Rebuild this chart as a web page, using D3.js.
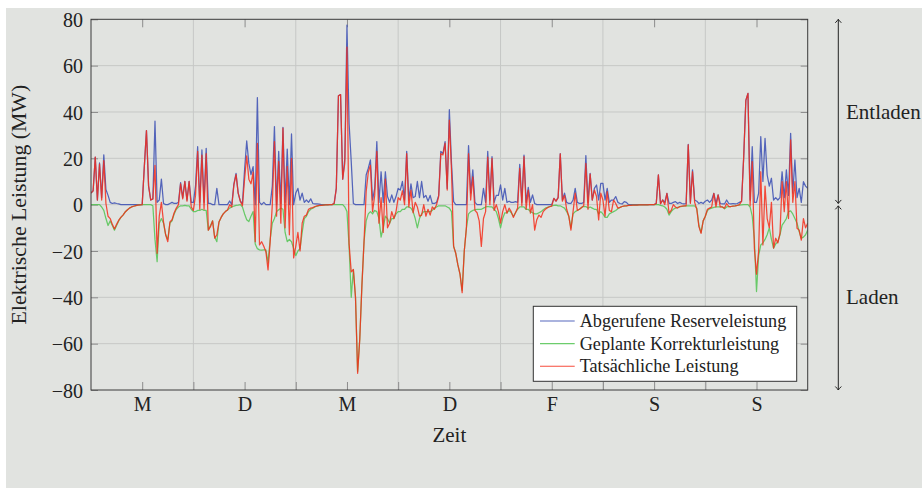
<!DOCTYPE html>
<html>
<head>
<meta charset="utf-8">
<script src="https://cdn.jsdelivr.net/npm/d3@7"></script>
<style>
  html, body { margin: 0; padding: 0; background: #ffffff; }
  svg { display: block; }
  text { font-family: "Liberation Serif", "DejaVu Serif", serif; fill: #222; }
</style>
</head>
<body>
<svg id="chart" width="922" height="488"></svg>
<script>
// ---- data (half-hour samples over one week, 337 points) ----
const dayLabels = ["M", "D", "M", "D", "F", "S", "S"];
const yTicks = [-80, -60, -40, -20, 0, 20, 40, 60, 80];
const seriesNames = ["Abgerufene Reserveleistung", "Geplante Korrekturleistung", "Tatsächliche Leistung"];
const regionLabels = ["Entladen", "Laden"];

const reserve = [
  5,6,20.5,2,18,3,21.5,6.5,4,1, 0.5,0.8,0.5,0.3,0,0,0,0,0,0, 0,0,0,0,0,16.4,32,8,2,2.5, 36,1,2,11,0.5,0,0,0.5,1,0.5, 0.5,1,9.5,3,10,2,10,1,
  1,8,25,1,23.6,1,24.3,0.5,0.5,0, 0,7,0,0,0,0,0,1.6,0,9, 13.5,5,1.5,0.5,15,27.5,17.8,13,16.4,0, 46.2,1,0,1,0,0,0,8,33.7,0, 23,0.5,33.4,1,24,0,30.5,0,
  5,7,2,5,1,2,1,2.5,0.5,0.3, 0.3,0.2,0,0,0,0,0,0,0.5,7, 47,47.5,11,20,77.5,35,18.6,0.5,0,0, 0,0,0,12.8,15.7,19.3,2,7,27.2,1, 14.2,1,14.2,3.5,1,4.2,1,3.5,
  7,6.3,10,2,23,2,9,3,3.5,10, 3,10,3,4,1.5,4,0.5,0.5,1,4, 23,22,27.2,7,41,18,1.3,0,0,0, 0,0,0,25.5,5,15,1,0,0,0, 7,1,23,2,20.7,1,4,4,
  8.5,2,7,1,1.5,1,1,1.3,1,17.4, 1,21.4,1,7.5,1,4.2,0.5,0,0,0, 0,0,0,0,0,2.7,1.5,3,22,2, 5,1,0.5,0.5,2,7,1,0.5,0.5,1, 21.2,1,13.5,2,7,8.5,2,9.2,
  9.2,2,7,1,2,2,3.5,1,0.5,0.3, 1.3,1,0,0,0,0,0,0,0,0, 0,0,0,0,0,0.5,12.8,0.5,2,1, 4.9,0.5,0.5,1,1.3,0.5,1,0.5,0.3,0.5, 26,1,15,2,1.5,0.5,1,0.5,
  1.5,2,1,2,4.9,0.5,4.2,0.5,0.3,0.3, 2,0.5,0.3,0.5,0.3,0.5,1,1.5,20.7,45, 48,2,25,1,1,5,29.4,10,28.6,12.8, 8,11.4,2,3,2,3,14.2,3,15,4, 30.8,5,19.3,3,7,1,9.9,8,7
];

const correction = [
  0,0,0,0,0,-1,-2.5,-6,-9,-7, -9,-11,-9,-7,-5.5,-4.5,-3.2,-2.3,-1.5,-1, -0.7,-0.4,-0.2,-0.1,0,0,0,0,0,-0.5, -15,-24.6,-8,-6,-8,-13,-15,-8,-7,-4, -2,-1,-0.5,-0.5,-0.3,-0.5,-0.5,-2,
  -3,-3,-2.5,-2.5,-2,-2.5,-2.5,-11,-9,-7, -14,-16,-7.5,-5.5,-4,-3,-2.3,-1.5,-1,-0.6, -0.3,-0.2,0,-1,-4,-6.5,-7.3,-5,-3,-17, -19,-19.5,-19.6,-19.5,-19.5,-25,-15,-8,-6,-3, -2.2,-1.5,-2,-12,-16,-15,-16,-19,
  -22,-20,-19,-12,-6,-5,-3,-2,-1.5,-1, -0.6,-0.4,-0.3,-0.2,-0.1,-0.1,0,0,0,0, 0,0,0,-1,-3,-18,-40,-28,-40,-72, -58,-35,-16,-7,-4,-3,-4,-2.5,-3,-6, -14,-10,-5,-6,-8,-6,-6,-4,
  -3,-3,-2,-2,-1,-1,-1.5,-3,-6,-10, -6,-4,-3,-3,-3,-3,-2.5,-1.5,-1,-0.5, -0.5,-0.5,-0.5,-1,-1.5,-3,-18,-21,-26,-30, -37,-20,-10,-4,-3,-2.5,-2.2,-2,-2,-2, -1.5,-1,-0.8,-1,-1,-2,-3,-6,
  -10,-6,-3.5,-3.5,-2.5,-3.5,-5,-3.5,-2,-1, -1,-1,-2,-2,-3,-3.5,-4,-4,-3.5,-3, -2.2,-1.5,-1.2,-0.8,-0.5,-0.3,-0.2,-0.5,-0.5,-1, -1.5,-3,-5,-10,-4,-3,-2.5,-2,-1.2,-0.8, -0.8,-1.5,-1,-1.5,-2,-2,-4,-3,
  -4,-5.5,-5.5,-4,-3.5,-3,-2.5,-1.8,-1.2,-0.8, -0.6,-0.5,-0.3,-0.3,-0.2,-0.2,-0.2,-0.1,-0.1,-0.1, -0.1,-0.1,0,0,0,0,0,-0.3,-0.5,-1, -2,-4.5,-3,-2,-1.5,-1.2,-1,-0.8,-0.6,-0.5, -0.5,-0.5,-0.5,-0.5,-1.5,-9,-12,-7,
  -5,-2.5,-1.8,-1.5,-1.2,-1,-1,-1,-1,-1.8, -1,-0.8,-0.8,-0.6,-0.5,-0.3,-0.2,-0.1,0,0, 0,-1,-5,-15,-37.5,-22,-17.4,-16.5,-15,-13, -10,-15,-18.8,-17,-16,-13,-8.8,-7.5,-6,-3, -2.7,-4,-6,-8,-11.6,-14.5,-14,-13,-11
];

const actual = [
  5,6,20.5,2,17.5,2,19,0.5,-5,-6, -8.5,-10.5,-8.5,-6.7,-5.5,-4.5,-3.2,-2.3,-1.5,-1, -0.7,-0.4,-0.2,-0.1,0,16.4,32,8,2,2.5, 17,-21,-5,1,-7.5,-13,-16,-7.5,-6.5,-3.5, -1.5,0,9,2.5,10,1.5,10,-1,
  -2.5,4,23,-2,21.4,-2,22,-11,-9.5,-7, -14.5,-13,-7.5,-5.5,-4,-3,-2.3,0,-1,8.5, 13,5,1.5,-0.5,11,21,11,9,14,-16, 26.5,-17.4,-16,-18,-20.3,-28.2,-16,0,27.2,-5, 18.7,-8,33,-10,16.5,-13,20,-23,
  -18,-12,-20,-8,-5,-4.5,-2,-1.5,-1.3,-0.8, -0.5,-0.3,-0.3,-0.2,-0.1,-0.1,0,0,0.5,7, 47,47.5,11,18,68,-17,-29,-28,-40,-72.8, -58,-35,-16,5.6,14,17,-3,4,23,-8, 3,-12,11,-10,-8,-3,-6,-3,
  3,2,6,0,22,-1,6.3,-3.5,1,-1, -5,-4.5,0,-5,-2,-4.5,-1,-2,0,3.5, 22,21.5,26.5,6.3,36.5,15,-18,-21,-26,-30, -38,-20,-10,22,2,12,-2.5,-3.5,-7,-18, -6,-3,20.5,0,20,-2.5,0,-3,
  -8,-3,0,-3.7,-1.5,-3,-5.5,-3.5,-1.5,15.7, -0.5,20.7,-2,6.3,-3.7,0,-11,-6.5,-4.5,-5.5, -3,-2,-1.3,-0.9,-0.6,2.7,1.5,3,21.9,1.5, 4,-2,-5,-11,-3,5,-2.5,-2,-1.2,-0.5, 17.8,-2,13.2,2,6.3,3.5,-6.6,5,
  2,-5,5.6,-2.5,-3,2,0.5,-1.5,-1.2,-0.8, -0.5,-0.5,-0.3,-0.3,-0.2,-0.2,-0.2,-0.1,-0.1,-0.1, -0.1,-0.1,0,0,0,0.5,12.8,0.3,2,0, 4.9,-3.7,-2.5,0,-1,-1.5,-0.8,-0.6,-0.5,-0.5, 25.8,0.5,14.2,1,-2,-9.5,-12.4,-7,
  -5,-2,-1.5,-1,4.9,-1,4.2,-1,-1,-1.5, 0.5,-0.8,-0.8,-0.6,-0.5,-0.3,0,1.5,20.7,45, 48,-0.5,18.6,-18.8,-30,-20,14.2,-17.4,8,-6, -10,1,-18.8,-14.5,-16.5,-12.5,9.9,-3,9.9,-6, 28,1,9.9,-10.2,-11,-15.3,-6,-10,-8
];

// ---- layout ----
const W = 922, H = 488;
const plot = { left: 91, right: 807.7, top: 19.3, bottom: 390 };
const colors = { reserve: "#3a4db3", correction: "#52c452", actual: "#f52d1a" };
const stepsPerDay = 48;
const nSteps = stepsPerDay * dayLabels.length;

const svg = d3.select("#chart");
svg.append("rect").attr("x", 6).attr("y", 8).attr("width", W - 6).attr("height", H - 8).attr("fill", "#e1e3e0");

const x = d3.scaleLinear().domain([0, nSteps]).range([plot.left, plot.right]);
const y = d3.scaleLinear().domain([-80, 80]).range([plot.bottom, plot.top]);

const dayBounds = d3.range(0, nSteps + 1, stepsPerDay);
const dayCenters = dayLabels.map((d, i) => i * stepsPerDay + stepsPerDay / 2);

// grid
const grid = svg.append("g");
grid.selectAll("line.h").data(yTicks.slice(1, -1)).join("line")
  .attr("x1", plot.left).attr("x2", plot.right)
  .attr("y1", d => y(d)).attr("y2", d => y(d))
  .attr("stroke", "#c6c8c6").attr("stroke-width", 1);
grid.selectAll("line.v").data(dayBounds.slice(1, -1)).join("line")
  .attr("x1", d => x(d)).attr("x2", d => x(d))
  .attr("y1", plot.top).attr("y2", plot.bottom)
  .attr("stroke", "#c6c8c6").attr("stroke-width", 1);

// axes (ticks inward)
const tickColor = "#8c8c8c";
const fmt = d3.format("d");
const axL = svg.append("g").attr("transform", `translate(${plot.left},0)`)
  .call(d3.axisLeft(y).tickValues(yTicks).tickSize(-7).tickPadding(8).tickFormat(fmt));
const axR = svg.append("g").attr("transform", `translate(${plot.right},0)`)
  .call(d3.axisRight(y).tickValues(yTicks).tickSize(-7).tickFormat(""));
const axB = svg.append("g").attr("transform", `translate(0,${plot.bottom})`)
  .call(d3.axisBottom(x).tickValues(dayCenters).tickSize(-8).tickPadding(7).tickFormat((d, i) => dayLabels[i]));
const axB2 = svg.append("g").attr("transform", `translate(0,${plot.bottom})`)
  .call(d3.axisBottom(x).tickValues(dayBounds.slice(1, -1)).tickSize(-8).tickFormat(""));
const axT = svg.append("g").attr("transform", `translate(0,${plot.top})`)
  .call(d3.axisTop(x).tickValues(dayCenters).tickSize(-8).tickFormat(""));
[axL, axR, axB, axB2, axT].forEach(g => {
  g.select(".domain").remove();
  g.selectAll(".tick line").attr("stroke", tickColor).attr("stroke-width", 1);
  g.selectAll("text").attr("font-family", "Liberation Serif").attr("font-size", 20).attr("fill", "#222");
});
axL.selectAll("text").attr("dy", "0.36em");
axB.selectAll("text").attr("dy", "0.71em");

// lines
const clip = svg.append("clipPath").attr("id", "clip").append("rect")
  .attr("x", plot.left).attr("y", plot.top).attr("width", plot.right - plot.left).attr("height", plot.bottom - plot.top);
const lineGen = d3.line().x((d, i) => x(i)).y(d => y(d));
const lines = svg.append("g").attr("clip-path", "url(#clip)");
[[reserve, colors.reserve], [correction, colors.correction], [actual, colors.actual]].forEach(([data, c]) => {
  lines.append("path").datum(data).attr("d", lineGen)
    .attr("fill", "none").attr("stroke", c).attr("stroke-width", 1.25)
    .attr("stroke-opacity", 0.85).attr("stroke-linejoin", "round");
});

// frame
svg.append("rect").attr("x", plot.left).attr("y", plot.top)
  .attr("width", plot.right - plot.left).attr("height", plot.bottom - plot.top)
  .attr("fill", "none").attr("stroke", "#3a3a3a").attr("stroke-width", 1);

// axis titles
svg.append("text").attr("x", (plot.left + plot.right) / 2).attr("y", 441.5)
  .attr("text-anchor", "middle").attr("font-size", 21).text("Zeit");
svg.append("text").attr("transform", `translate(25.5,${(plot.top + plot.bottom) / 2}) rotate(-90)`)
  .attr("text-anchor", "middle").attr("font-size", 21.8).text("Elektrische Leistung (MW)");

// legend
const lg = svg.append("g");
lg.append("rect").attr("x", 533.3).attr("y", 306.3).attr("width", 263.4).attr("height", 75)
  .attr("fill", "#ffffff").attr("stroke", "#333").attr("stroke-width", 1);
const legendColors = [colors.reserve, colors.correction, colors.actual];
seriesNames.forEach((name, i) => {
  const yy = 321 + i * 22.6;
  lg.append("line").attr("x1", 540).attr("x2", 574.7).attr("y1", yy).attr("y2", yy)
    .attr("stroke", legendColors[i]).attr("stroke-width", 1.1).attr("stroke-opacity", 0.85);
  lg.append("text").attr("x", 579.7).attr("y", yy + 6).attr("font-size", 18.2).text(name);
});

// right-hand annotation (Entladen / Laden)
const ax = 838.3;
const ann = svg.append("g").attr("stroke", "#222").attr("stroke-width", 1).attr("fill", "none");
const segs = [[y(80), y(0) - 1.2], [y(0) + 1.2, y(-80)]];
segs.forEach(([a, b]) => {
  ann.append("line").attr("x1", ax).attr("x2", ax).attr("y1", a).attr("y2", b);
  ann.append("path").attr("d", `M${ax - 3},${a + 3.5} Q${ax - 0.8},${a + 1.2} ${ax},${a} Q${ax + 0.8},${a + 1.2} ${ax + 3},${a + 3.5}`);
  ann.append("path").attr("d", `M${ax - 3},${b - 3.5} Q${ax - 0.8},${b - 1.2} ${ax},${b} Q${ax + 0.8},${b - 1.2} ${ax + 3},${b - 3.5}`);
});
svg.append("text").attr("x", 846).attr("y", (y(80) + y(0)) / 2 + 7).attr("font-size", 21).text(regionLabels[0]);
svg.append("text").attr("x", 846).attr("y", (y(0) + y(-80)) / 2 + 7).attr("font-size", 21).text(regionLabels[1]);
</script>
</body>
</html>
